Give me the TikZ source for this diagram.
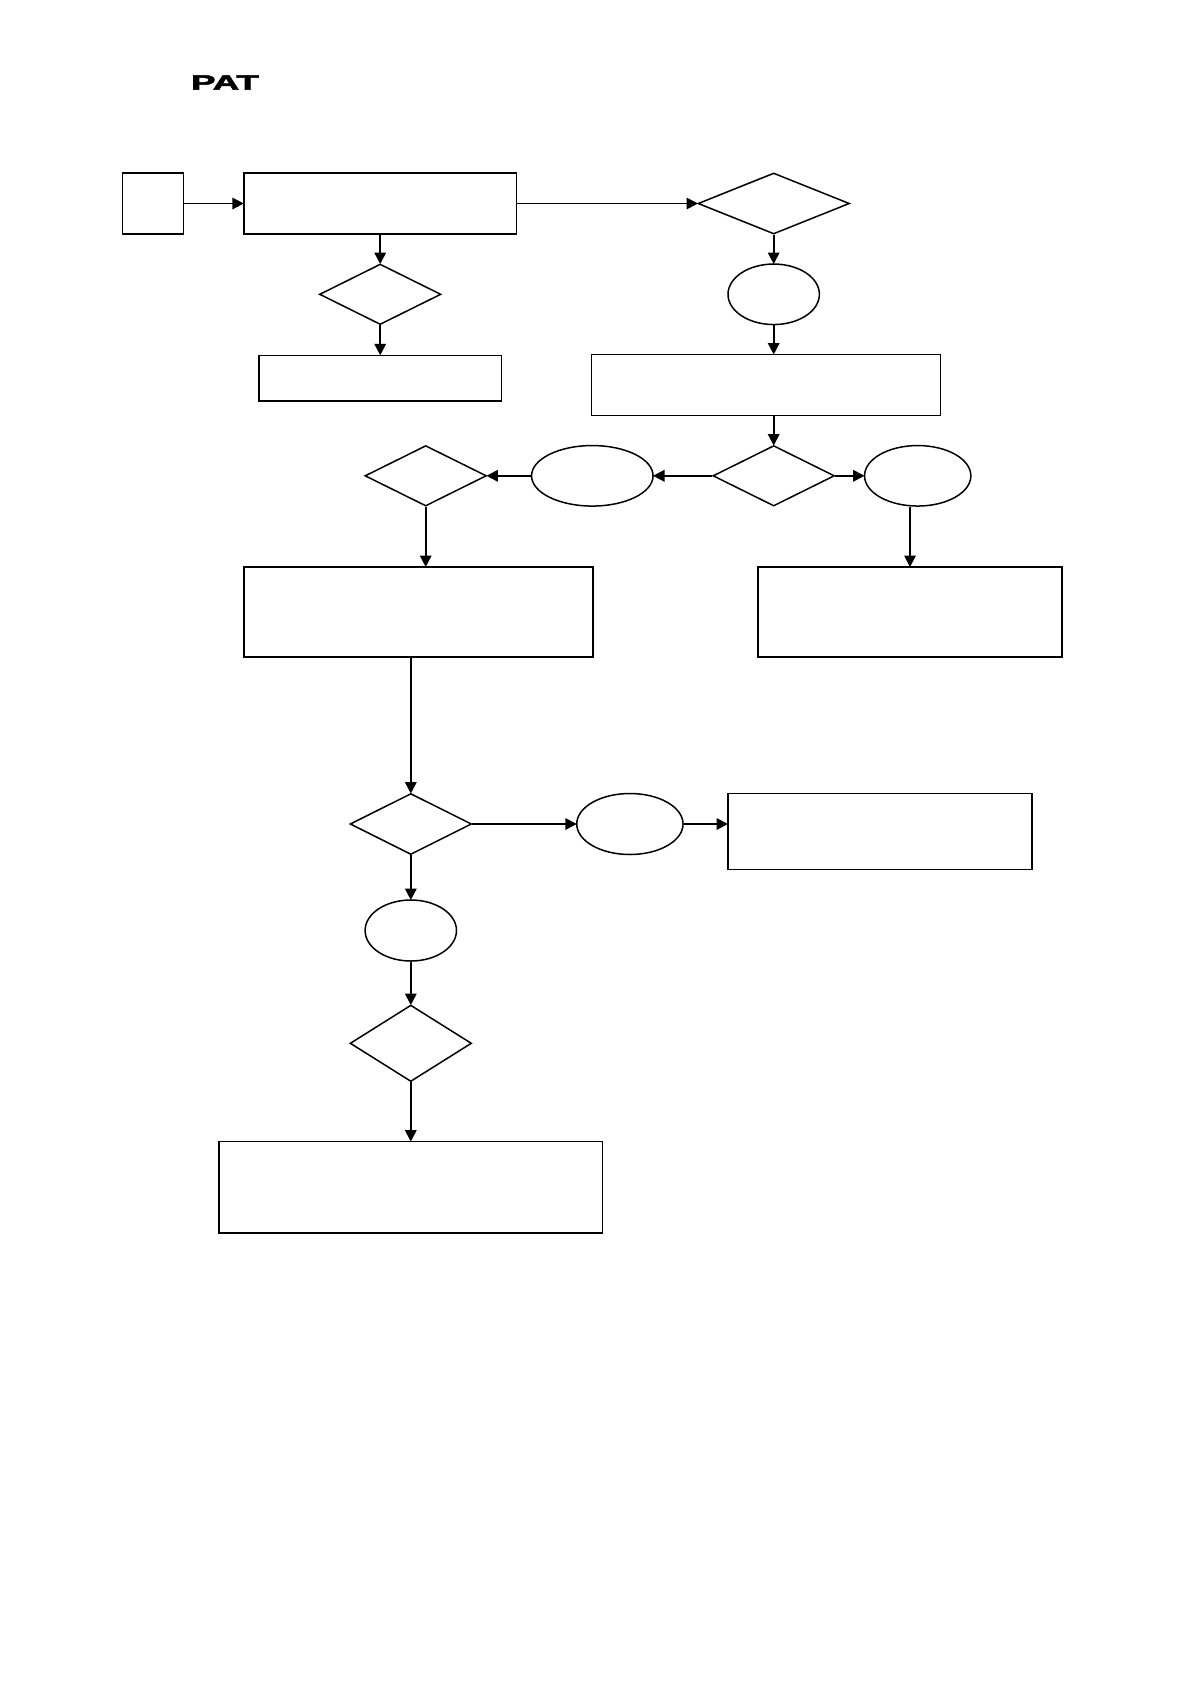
\documentclass[tikz,border=0pt]{standalone}
\usepackage{fontspec}
\usetikzlibrary{shapes.geometric,arrows.meta}
\newfontfamily\patfont[BoldFeatures={FakeBold=2.5}]{Liberation Sans}
\tikzset{
  box/.style={draw=black,line width=1.5pt,rectangle,inner sep=0pt,minimum width=#1},
  dia/.style={draw=black,line width=1.5pt,diamond,inner sep=0pt,minimum width=121.5pt},
  oval/.style={draw=black,line width=1.5pt,ellipse,inner sep=0pt},
  flow/.style={draw=black,line width=1.7pt,shorten >=-0.8pt,-{Triangle[length=11.5pt,width=11.5pt]}}
}
\begin{document}
\begin{tikzpicture}[x=1pt,y=-1pt]
\useasboundingbox (0,0) rectangle (1191,1684);
\node[font=\patfont\bfseries\fontsize{20.5}{20.5}\selectfont,inner sep=0pt,xscale=1.78] (pat) at (225,82.5) {PAT};
\node[box=61pt,minimum height=61pt] (start) at (153,203.5) {};
\node[box=272.8pt,minimum height=61pt] (main) at (380.2,203.5) {};
\node[dia,minimum height=60.5pt] (d1) at (380.2,294.3) {};
\node[box=242.6pt,minimum height=45.5pt] (b2) at (380.2,378) {};
\node[dia,minimum width=151.5pt,minimum height=61pt] (d0) at (773.7,203.5) {};
\node[oval,minimum width=91.4pt,minimum height=60.5pt] (e1) at (773.7,294.3) {};
\node[box=349pt,minimum height=61pt] (r2) at (766.2,385) {};
\node[dia,minimum height=60.5pt] (d3) at (773.7,475.8) {};
\node[oval,minimum width=121.5pt,minimum height=60.5pt] (e2) at (592.3,475.8) {};
\node[dia,minimum height=60.5pt] (d2) at (425.7,475.8) {};
\node[oval,minimum width=106.3pt,minimum height=60.5pt] (e3) at (917.7,475.8) {};
\node[box=349pt,minimum height=90pt] (l3) at (418.3,612) {};
\node[box=304pt,minimum height=90pt] (r3) at (910,612) {};
\node[dia,minimum height=61pt] (d4) at (410.8,824) {};
\node[oval,minimum width=106.3pt,minimum height=61pt] (e4) at (629.9,824) {};
\node[box=304pt,minimum height=76pt] (r4) at (880,831.7) {};
\node[oval,minimum width=91.4pt,minimum height=61pt] (e5) at (410.8,930.5) {};
\node[dia,minimum height=76.5pt] (d5) at (410.8,1043.3) {};
\node[box=383.5pt,minimum height=91.5pt] (b5) at (410.8,1187.3) {};
\draw[flow] (start) -- (main);
\draw[flow] (main.east) -- (d0.west);
\draw[flow] (main.south) -- (d1.north);
\draw[flow] (d1.south) -- (b2.north);
\draw[flow] (d0.south) -- (e1.north);
\draw[flow] (e1.south) -- (e1.south |- r2.north);
\draw[flow] (d3.north |- r2.south) -- (d3.north);
\draw[flow] (d3.west) -- (e2.east);
\draw[flow] (e2.west) -- (d2.east);
\draw[flow] (d3.east) -- (e3.west);
\draw[flow] (d2.south) -- (d2.south |- l3.north);
\draw[flow] (r3.north |- e3.south) -- (r3.north);
\draw[flow] (d4.north |- l3.south) -- (d4.north);
\draw[flow] (d4.east) -- (e4.west);
\draw[flow] (e4.east) -- (r4.west |- e4.east);
\draw[flow] (d4.south) -- (e5.north);
\draw[flow] (e5.south) -- (d5.north);
\draw[flow] (d5.south) -- (b5.north);
\end{tikzpicture}
\end{document}
